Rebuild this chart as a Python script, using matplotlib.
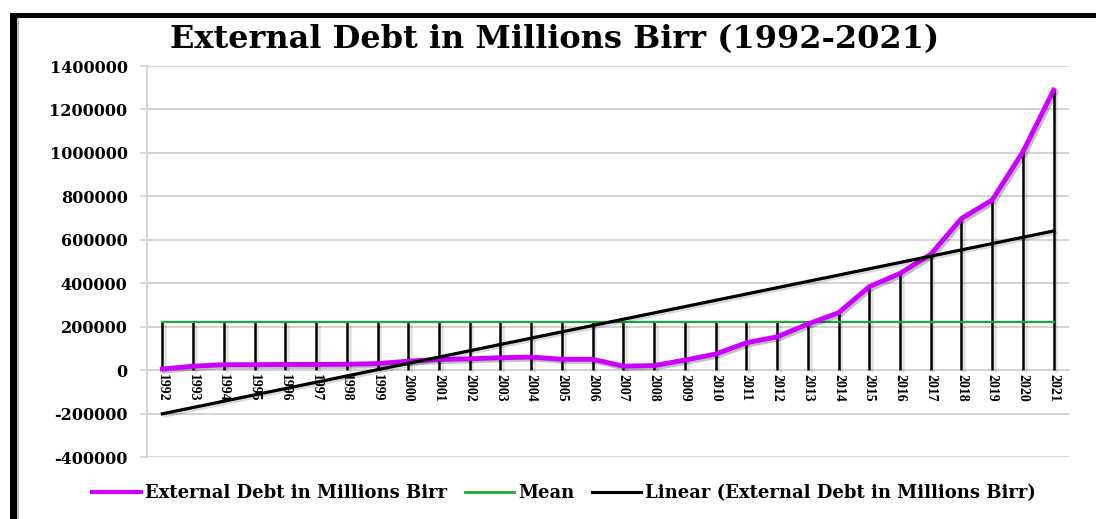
import numpy as np
import matplotlib
matplotlib.use("Agg")
import matplotlib.pyplot as plt
import matplotlib.patheffects as pe
from matplotlib.lines import Line2D
from matplotlib.patches import Rectangle

years = list(range(1992, 2022))
year_labels = [str(y) for y in years]
debt = [5000, 18000, 25000, 25000, 26000, 26000, 27000, 30000, 41000, 49000,
        52000, 57000, 60000, 50000, 50000, 18000, 21000, 46000, 74000, 126000,
        153000, 212000, 264000, 384000, 445000, 533000, 698000, 783000, 1005000, 1289000]
ytick_values = [-400000, -200000, 0, 200000, 400000, 600000, 800000, 1000000, 1200000, 1400000]
ytick_labels = ["-400000", "-200000", "0", "200000", "400000", "600000", "800000",
                "1000000", "1200000", "1400000"]
title = "External Debt in Millions Birr (1992-2021)"
series_names = ["External Debt in Millions Birr", "Mean",
                "Linear (External Debt in Millions Birr)"]

x = np.array(years, dtype=float)
y = np.array(debt, dtype=float)
mean_val = y.mean()
coef = np.polyfit(x, y, 1)
trend = np.polyval(coef, x)

fig = plt.figure(figsize=(10.96, 5.19), dpi=100)
fig.patch.set_facecolor("white")

# frame
fig.patches.append(Rectangle((10/1096, 0), 7/1096, 1 - 13/519, transform=fig.transFigure,
                             facecolor="black", edgecolor="none", zorder=10))
fig.patches.append(Rectangle((10/1096, 1 - 18/519), 1 - 10/1096, 5/519, transform=fig.transFigure,
                             facecolor="black", edgecolor="none", zorder=10))
fig.patches.append(Rectangle((17/1096, 0), 1.5/1096, 1 - 18/519, transform=fig.transFigure,
                             facecolor="#bbbbbb", edgecolor="none", zorder=10))

ax = fig.add_axes([147/1096, 1 - 457/519, 922/1096, 391/519])
grid_c = "#d4d4d4"
ax.spines["bottom"].set_position(("data", 0))
ax.spines["bottom"].set_color(grid_c)
ax.spines["bottom"].set_linewidth(1.4)
ax.spines["left"].set_color(grid_c)
ax.spines["left"].set_linewidth(1.4)
ax.spines["top"].set_visible(False)
ax.spines["right"].set_visible(False)

ax.set_xlim(1991.5, 2021.5)
ax.set_ylim(-400000, 1400000)

ax.set_yticks(ytick_values)
ax.set_yticklabels(ytick_labels, fontfamily="DejaVu Serif", fontweight="bold", fontsize=11.5)
ax.tick_params(axis="y", length=5, color=grid_c, width=1.2, pad=9)
ax.yaxis.grid(True, color=grid_c, linewidth=1.4)
ax.set_axisbelow(True)

ax.set_xticks(years)
ax.set_xticklabels(year_labels, rotation=-90, fontfamily="Liberation Serif",
                   fontweight="bold", fontsize=10)
ax.tick_params(axis="x", length=0, pad=3)

shadow = [pe.SimpleLineShadow(offset=(2, -1.5), shadow_color="black", alpha=0.12), pe.Normal()]

# drop lines
tops = np.maximum(y, mean_val)
ax.vlines(x, 0, tops, colors="black", linewidth=1.8, zorder=3, path_effects=shadow)

ax.plot(x, np.full_like(x, mean_val), color="#1aa83a", linewidth=1.6, zorder=4)
ax.plot(x, y, color="#cc00ff", linewidth=3.5, zorder=5, solid_joinstyle="round",
        path_effects=[pe.SimpleLineShadow(offset=(1.5, -1.5), shadow_color="black", alpha=0.25), pe.Normal()])
ax.plot(x, trend, color="black", linewidth=2.3, zorder=6,
        path_effects=[pe.SimpleLineShadow(offset=(1.5, -1.5), shadow_color="black", alpha=0.15), pe.Normal()])

fig.text(555/1096, 1 - 40/519, title, ha="center", va="center",
         fontfamily="DejaVu Serif", fontweight="bold", fontsize=23)

handles = [Line2D([], [], color="#cc00ff", linewidth=3),
           Line2D([], [], color="#1aa83a", linewidth=2),
           Line2D([], [], color="black", linewidth=2.2)]
fig.legend(handles, series_names, loc="center", bbox_to_anchor=(564/1096, 1 - 493/519),
           ncol=3, frameon=False, handlelength=2.7, columnspacing=1.0, handletextpad=0.22,
           prop={"family": "DejaVu Serif", "weight": "bold", "size": 13})

fig.savefig("out.png", dpi=100, facecolor="white")
